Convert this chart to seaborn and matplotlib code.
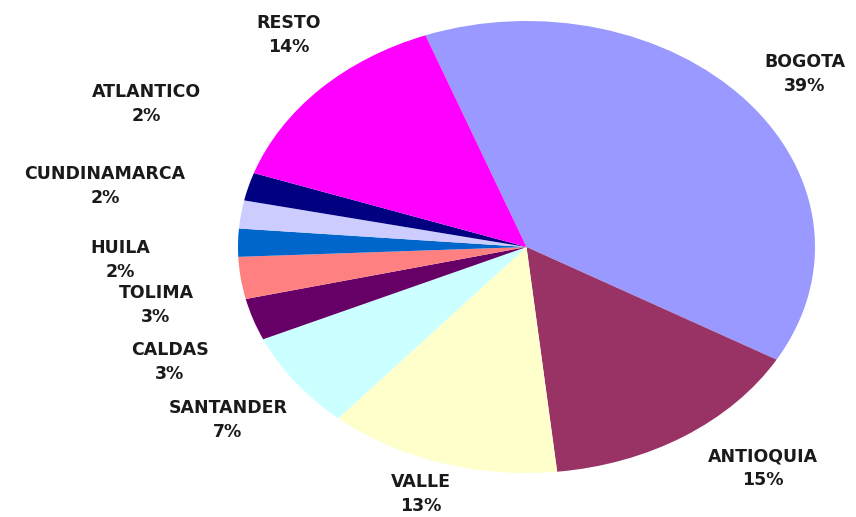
import matplotlib
matplotlib.use("Agg")
import matplotlib.pyplot as plt
import seaborn as sns

# Data
categories = ["BOGOTA", "ANTIOQUIA", "VALLE", "SANTANDER", "CALDAS",
              "TOLIMA", "HUILA", "CUNDINAMARCA", "ATLANTICO", "RESTO"]
shares = [39, 15, 13, 7, 3, 3, 2, 2, 2, 14]
colors = ["#9999FF", "#993366", "#FFFFCC", "#CCFFFF", "#660066",
          "#FF8080", "#0066CC", "#CCCCFF", "#000080", "#FF00FF"]

# label centers in figure pixels (x, y from top), between the two lines
label_pos = [(805, 74), (763, 468), (421, 494), (228, 420), (170, 362),
             (156, 305), (120, 260), (105, 186), (146, 104), (289, 35)]

sns.set_theme(style="white")
plt.rcParams["font.family"] = ["DejaVu Sans"]

W, H = 856, 517
fig = plt.figure(figsize=(W / 100, H / 100), dpi=100)
fig.patch.set_facecolor("white")

left, right, top, bottom = 238, 815, 21, 473
ax = fig.add_axes([left / W, (H - bottom) / H, (right - left) / W, (bottom - top) / H])
ax.pie(shares, colors=colors, startangle=110.5, counterclock=False,
       radius=1.0, wedgeprops=dict(linewidth=0, edgecolor="none"), frame=False)
ax.set_aspect("auto")
ax.set_xlim(-1, 1)
ax.set_ylim(-1, 1)
ax.axis("off")

for cat, val, (px, py) in zip(categories, shares, label_pos):
    fig.text(px / W, 1 - py / H, f"{cat}\n{val}%", ha="center", va="center",
             fontsize=12.5, fontweight="bold", color="#1a1a1a",
             linespacing=1.4)

fig.savefig("out.png", dpi=100, facecolor="white")
